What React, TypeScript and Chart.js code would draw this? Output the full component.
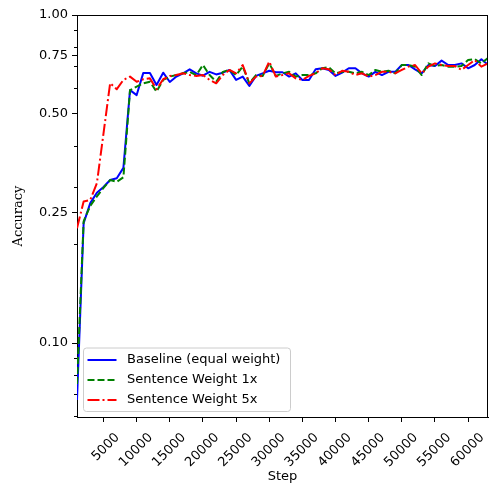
import React, { useEffect, useRef } from 'react';
import { Chart, registerables } from 'chart.js';

Chart.register(...registerables);

const steps = [
  1000, 2000, 3000, 4000, 5000, 6000, 7000, 8000, 9000, 10000,
  11000, 12000, 13000, 14000, 15000, 16000, 17000, 18000, 19000, 20000,
  21000, 22000, 23000, 24000, 25000, 26000, 27000, 28000, 29000, 30000,
  31000, 32000, 33000, 34000, 35000, 36000, 37000, 38000, 39000, 40000,
  41000, 42000, 43000, 44000, 45000, 46000, 47000, 48000, 49000, 50000,
  51000, 52000, 53000, 54000, 55000, 56000, 57000, 58000, 59000, 60000,
  61000, 62000, 63000,
];

const baseline = [
  0.067, 0.232, 0.267, 0.287, 0.299, 0.314, 0.318, 0.342, 0.590, 0.570,
  0.666, 0.666, 0.612, 0.667, 0.625, 0.649, 0.664, 0.683, 0.664, 0.653,
  0.671, 0.659, 0.667, 0.680, 0.634, 0.649, 0.608, 0.652, 0.664, 0.676,
  0.669, 0.669, 0.649, 0.664, 0.634, 0.634, 0.683, 0.688, 0.680, 0.652,
  0.667, 0.688, 0.688, 0.664, 0.649, 0.671, 0.656, 0.671, 0.671, 0.704,
  0.704, 0.683, 0.664, 0.704, 0.699, 0.726, 0.704, 0.704, 0.712, 0.688,
  0.704, 0.733, 0.705,
];

const sentence1x = [
  0.075, 0.235, 0.262, 0.280, 0.297, 0.314, 0.310, 0.320, 0.590, 0.605,
  0.619, 0.626, 0.584, 0.634, 0.649, 0.656, 0.664, 0.671, 0.656, 0.704,
  0.656, 0.626, 0.671, 0.680, 0.656, 0.696, 0.619, 0.656, 0.652, 0.712,
  0.652, 0.664, 0.671, 0.649, 0.656, 0.656, 0.664, 0.688, 0.693, 0.664,
  0.671, 0.671, 0.664, 0.671, 0.656, 0.680, 0.671, 0.676, 0.664, 0.704,
  0.704, 0.696, 0.656, 0.712, 0.699, 0.704, 0.696, 0.696, 0.699, 0.729,
  0.734, 0.712, 0.740,
];

const sentence5x = [
  0.224, 0.270, 0.273, 0.307, 0.436, 0.620, 0.594, 0.634, 0.649, 0.626,
  0.637, 0.641, 0.594, 0.637, 0.652, 0.656, 0.664, 0.656, 0.652, 0.656,
  0.634, 0.619, 0.656, 0.680, 0.664, 0.704, 0.619, 0.649, 0.652, 0.721,
  0.649, 0.656, 0.664, 0.641, 0.634, 0.652, 0.664, 0.688, 0.683, 0.656,
  0.676, 0.671, 0.656, 0.664, 0.649, 0.656, 0.671, 0.671, 0.664, 0.680,
  0.696, 0.704, 0.664, 0.696, 0.712, 0.704, 0.699, 0.699, 0.680, 0.704,
  0.729, 0.696, 0.712,
];

const seriesNames = ['Baseline (equal weight)', 'Sentence Weight 1x', 'Sentence Weight 5x'];
const xTickValues = [5000, 10000, 15000, 20000, 25000, 30000, 35000, 40000, 45000, 50000, 55000, 60000];
const yTickValues = [0.1, 0.25, 0.5, 0.75, 1.0];
const yMinorTicks = [0.06, 0.07, 0.08, 0.09, 0.2, 0.3, 0.4, 0.6, 0.7, 0.8, 0.9];

const SANS = 'DejaVu Sans';

const framePlugin = {
  id: 'frameAndLegend',
  afterDraw(chart: any) {
    const { ctx, chartArea } = chart;
    const { left, right, top, bottom } = chartArea;
    const yScale = chart.scales.y;
    ctx.save();
    ctx.strokeStyle = '#000';
    ctx.lineWidth = 1;
    ctx.setLineDash([]);
    ctx.beginPath();
    ctx.moveTo(left, top + 0.5);
    ctx.lineTo(right, top + 0.5);
    ctx.moveTo(right - 0.5, top);
    ctx.lineTo(right - 0.5, bottom);
    for (const v of yMinorTicks) {
      const p = Math.round(yScale.getPixelForValue(v)) + 0.5;
      ctx.moveTo(left - 3, p);
      ctx.lineTo(left, p);
    }
    ctx.stroke();

    // legend box (inside plot, lower left)
    const bx = left + 6.5;
    const bw = 207;
    const bh = 63.5;
    const by = bottom - 5.5 - bh;
    ctx.beginPath();
    if ((ctx as any).roundRect) {
      (ctx as any).roundRect(bx, by, bw, bh, 3);
    } else {
      ctx.rect(bx, by, bw, bh);
    }
    ctx.fillStyle = 'rgba(255,255,255,0.8)';
    ctx.fill();
    ctx.strokeStyle = '#cccccc';
    ctx.lineWidth = 1;
    ctx.stroke();

    chart.data.datasets.forEach((ds: any, i: number) => {
      const rowY = by + 12 + i * 20;
      ctx.beginPath();
      ctx.strokeStyle = ds.borderColor;
      ctx.lineWidth = ds.borderWidth;
      ctx.setLineDash(ds.borderDash || []);
      ctx.moveTo(bx + 4, rowY);
      ctx.lineTo(bx + 33, rowY);
      ctx.stroke();
      ctx.setLineDash([]);
      ctx.fillStyle = '#000';
      ctx.font = `13px "${SANS}"`;
      ctx.textAlign = 'left';
      ctx.textBaseline = 'middle';
      ctx.fillText(ds.label, bx + 43.5, rowY);
    });
    ctx.restore();
  },
};

export default function App() {
  const canvasRef = useRef<HTMLCanvasElement | null>(null);

  useEffect(() => {
    const canvas = canvasRef.current;
    if (!canvas) return;
    Chart.defaults.font.family = SANS;
    Chart.defaults.font.size = 13;
    Chart.defaults.color = '#000';

    const mk = (vals: number[]) => steps.map((s, i) => ({ x: s, y: vals[i] }));

    const chart = new Chart(canvas, {
      type: 'line',
      data: {
        datasets: [
          {
            label: seriesNames[0],
            data: mk(baseline),
            borderColor: '#0000ff',
            borderWidth: 2,
            pointRadius: 0,
            borderJoinStyle: 'round',
            order: 3,
            tension: 0,
          },
          {
            label: seriesNames[1],
            data: mk(sentence1x),
            borderColor: '#008000',
            borderWidth: 2,
            borderDash: [7, 3],
            pointRadius: 0,
            borderJoinStyle: 'round',
            order: 2,
            tension: 0,
          },
          {
            label: seriesNames[2],
            data: mk(sentence5x),
            borderColor: '#ff0000',
            borderWidth: 2,
            borderDash: [12, 3, 2, 3],
            pointRadius: 0,
            borderJoinStyle: 'round',
            order: 1,
            tension: 0,
          },
        ],
      },
      options: {
        animation: false,
        responsive: false,
        devicePixelRatio: 1,
        layout: { padding: { top: 15, right: 1, left: 0, bottom: 0 } },
        plugins: {
          legend: { display: false },
          tooltip: { enabled: false },
        },
        scales: {
          x: {
            type: 'linear',
            min: 1000,
            max: 63000,
            bounds: 'data',
            afterBuildTicks: (axis: any) => {
              axis.ticks = xTickValues.map((value) => ({ value }));
            },
            afterFit: (axis: any) => {
              axis.height = 67;
            },
            grid: { drawOnChartArea: false, drawTicks: true, tickLength: 5, tickColor: '#000', tickWidth: 1 },
            border: { display: true, color: '#000', width: 1 },
            ticks: {
              autoSkip: false,
              maxRotation: 45,
              minRotation: 45,
              labelOffset: 14,
              padding: 8,
              color: '#000',
              font: { family: SANS, size: 13 },
              callback: (v: any) => String(v),
            },
            title: {
              display: true,
              text: 'Step',
              color: '#000',
              font: { family: SANS, size: 13 },
              padding: { top: 0, bottom: 0 },
            },
          },
          y: {
            type: 'logarithmic',
            min: 0.0595,
            max: 1,
            bounds: 'data',
            afterBuildTicks: (axis: any) => {
              axis.ticks = yTickValues.map((value) => ({ value }));
            },
            afterFit: (axis: any) => {
              axis.width = 77;
            },
            grid: { drawOnChartArea: false, drawTicks: true, tickLength: 5, tickColor: '#000', tickWidth: 1 },
            border: { display: true, color: '#000', width: 1 },
            ticks: {
              autoSkip: false,
              padding: 4,
              color: '#000',
              font: { family: SANS, size: 13 },
              callback: (v: any) => Number(v).toFixed(2),
            },
            title: {
              display: true,
              text: 'Accuracy',
              color: '#000',
              font: { family: 'DejaVu Serif', size: 13 },
              padding: { top: 11, bottom: 0 },
            },
          },
        },
      },
      plugins: [framePlugin],
    } as any);

    return () => {
      chart.destroy();
    };
  }, []);

  return (
    <div style={{ position: 'fixed', left: 0, top: 0, width: 489, height: 484, background: '#fff' }}>
      <canvas ref={canvasRef} width={489} height={484} style={{ display: 'block' }} />
    </div>
  );
}
